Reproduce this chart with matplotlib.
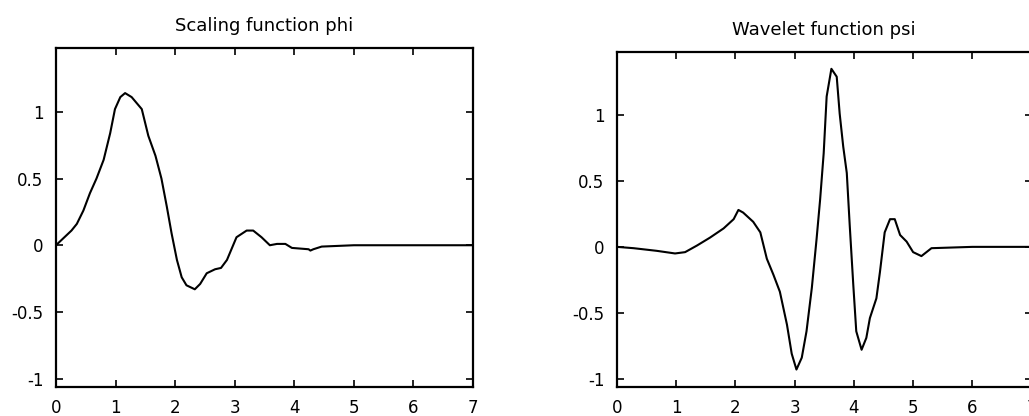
import matplotlib
matplotlib.use("Agg")
import matplotlib.pyplot as plt

# values
phi_x = [0.0, 0.26, 0.35, 0.46, 0.57, 0.68, 0.80, 0.91, 0.99, 1.08, 1.16, 1.27,
         1.44, 1.55, 1.67, 1.77, 1.86, 1.94, 2.03, 2.11, 2.19, 2.33, 2.42, 2.53,
         2.67, 2.77, 2.87, 3.03, 3.20, 3.31, 3.45, 3.59, 3.71, 3.85, 3.96, 4.24,
         4.27, 4.32, 4.46, 5.0, 6.0, 7.0]
phi_y = [0.0, 0.11, 0.16, 0.26, 0.39, 0.50, 0.64, 0.84, 1.02, 1.11, 1.14, 1.11,
         1.02, 0.82, 0.67, 0.50, 0.29, 0.09, -0.11, -0.24, -0.30, -0.33, -0.29, -0.21,
         -0.18, -0.17, -0.11, 0.06, 0.11, 0.11, 0.06, 0.00, 0.01, 0.01, -0.02, -0.03,
         -0.04, -0.03, -0.01, 0.0, 0.0, 0.0]

psi_x = [0.0, 0.28, 0.67, 0.98, 1.15, 1.35, 1.57, 1.80, 1.97, 2.05, 2.13, 2.30,
         2.42, 2.53, 2.64, 2.75, 2.87, 2.95, 3.03, 3.12, 3.20, 3.29, 3.37, 3.43,
         3.49, 3.54, 3.62, 3.71, 3.76, 3.82, 3.88, 3.93, 3.99, 4.04, 4.13, 4.21,
         4.27, 4.38, 4.44, 4.52, 4.61, 4.69, 4.78, 4.89, 5.00, 5.14, 5.31, 6.0, 7.0]
psi_y = [0.0, -0.01, -0.03, -0.05, -0.04, 0.01, 0.07, 0.14, 0.21, 0.28, 0.26, 0.19,
         0.11, -0.09, -0.21, -0.34, -0.59, -0.81, -0.93, -0.84, -0.64, -0.31, 0.06, 0.36,
         0.71, 1.14, 1.35, 1.29, 1.01, 0.76, 0.56, 0.16, -0.29, -0.64, -0.78, -0.69,
         -0.54, -0.39, -0.19, 0.11, 0.21, 0.21, 0.09, 0.04, -0.04, -0.07, -0.01, 0.0, 0.0]

xticks = [0, 1, 2, 3, 4, 5, 6, 7]
yticks = [-1, -0.5, 0, 0.5, 1]
ytick_labels = ['-1', '-0.5', '0', '0.5', '1']

fig = plt.figure(figsize=(10.29, 4.16), dpi=100)

panels = [
    ([0.0544, 0.0704, 0.4053, 0.8149], phi_x, phi_y, 'Scaling function phi'),
    ([0.5996, 0.0705, 0.4029, 0.8053], psi_x, psi_y, 'Wavelet function psi'),
]

for pos, xs, ys, title in panels:
    ax = fig.add_axes(pos)
    ax.plot(xs, ys, color='black', linewidth=1.5)
    ax.set_xlim(0, 7)
    ax.set_ylim(-1.06, 1.48)
    ax.set_xticks(xticks)
    ax.set_yticks(yticks)
    ax.set_yticklabels(ytick_labels)
    ax.tick_params(direction='in', length=5, width=1.2, labelsize=12,
                   top=True, right=True, pad=9)
    for s in ax.spines.values():
        s.set_linewidth(1.6)
    ax.set_title(title, fontsize=13, pad=12)

fig.savefig('out.png', dpi=100)
